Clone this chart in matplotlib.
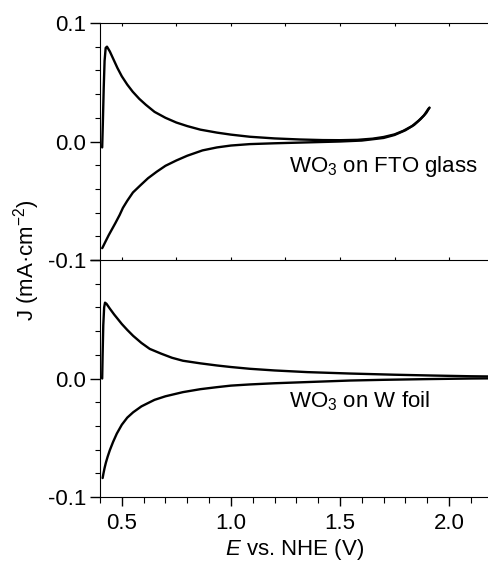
import numpy as np
import matplotlib
matplotlib.use('Agg')
import matplotlib.pyplot as plt
from matplotlib.ticker import MultipleLocator, FixedLocator

plt.rcParams['font.family'] = ['Liberation Sans', 'DejaVu Sans']
plt.rcParams['mathtext.fontset'] = 'custom'
plt.rcParams['mathtext.rm'] = 'Liberation Sans'
plt.rcParams['mathtext.it'] = 'Liberation Sans:italic'

# WO3 on FTO glass (top panel)
fto_fwd_E = [0.410, 0.413, 0.417, 0.421, 0.426, 0.432, 0.445, 0.460, 0.480, 0.500, 0.525,
             0.550, 0.580, 0.610, 0.650, 0.700, 0.750, 0.800, 0.860, 0.936, 1.000, 1.087,
             1.200, 1.316, 1.420, 1.500, 1.580, 1.650, 1.700, 1.750, 1.790, 1.830, 1.860,
             1.885, 1.905, 1.910]
fto_fwd_J = [-0.005, 0.015, 0.045, 0.068, 0.079, 0.080, 0.076, 0.070, 0.062, 0.055, 0.048,
             0.042, 0.036, 0.031, 0.025, 0.020, 0.016, 0.013, 0.010, 0.0075, 0.0058, 0.0040,
             0.0026, 0.0017, 0.0012, 0.0011, 0.0014, 0.0024, 0.0038, 0.0060, 0.0090, 0.0130, 0.0175,
             0.0220, 0.0275, 0.0285]
fto_rev_E = [1.910, 1.895, 1.870, 1.840, 1.800, 1.750, 1.700, 1.600, 1.500, 1.400, 1.300,
             1.200, 1.087, 1.000, 0.936, 0.870, 0.800, 0.750, 0.700, 0.660, 0.620, 0.585,
             0.551, 0.525, 0.505, 0.490, 0.470, 0.455, 0.440, 0.425, 0.413, 0.410]
fto_rev_J = [0.0285, 0.0240, 0.0190, 0.0140, 0.0095, 0.0055, 0.0030, 0.0008, 0.0000, -0.0005, -0.0010,
             -0.0015, -0.0022, -0.0034, -0.0050, -0.0075, -0.0120, -0.0160, -0.0205, -0.0255, -0.0310, -0.0370,
             -0.0430, -0.0500, -0.0560, -0.0620, -0.0690, -0.0740, -0.0790, -0.0845, -0.0890, -0.0900]

# WO3 on W foil (bottom panel)
w_fwd_E = [0.410, 0.412, 0.415, 0.419, 0.423, 0.430, 0.445, 0.465, 0.476, 0.500, 0.525,
           0.552, 0.590, 0.628, 0.680, 0.730, 0.780, 0.860, 0.936, 1.000, 1.087, 1.200,
           1.350, 1.546, 1.750, 1.927, 2.100, 2.300]
w_fwd_J = [0.000, 0.020, 0.045, 0.060, 0.064, 0.063, 0.059, 0.054, 0.0515, 0.046, 0.041,
           0.036, 0.030, 0.025, 0.021, 0.0175, 0.0150, 0.0128, 0.0110, 0.0097, 0.0082, 0.0068,
           0.0054, 0.0042, 0.0032, 0.0025, 0.0019, 0.0015]
w_rev_E = [2.300, 2.100, 1.900, 1.700, 1.546, 1.350, 1.200, 1.087, 1.000, 0.936, 0.860,
           0.780, 0.700, 0.650, 0.628, 0.590, 0.552, 0.525, 0.500, 0.477, 0.460, 0.445,
           0.435, 0.427, 0.421, 0.416, 0.412]
w_rev_J = [0.0003, 0.0000, -0.0005, -0.0011, -0.0017, -0.0030, -0.0040, -0.0050, -0.0060, -0.0073, -0.0090,
           -0.0115, -0.0150, -0.0180, -0.0200, -0.0235, -0.0285, -0.0330, -0.0390, -0.0465, -0.0535, -0.0605,
           -0.0660, -0.0710, -0.0755, -0.0800, -0.0840]

fig = plt.figure(figsize=(4.89, 5.66), dpi=100)
ax2 = fig.add_axes([0.2045, 0.1219, 0.7955, 0.4187])
ax1 = fig.add_axes([0.2045, 0.5406, 0.7955, 0.4188])
ax1.patch.set_visible(False)

line_kw = dict(color='k', lw=1.7, solid_joinstyle='round', solid_capstyle='round')
ax1.plot(fto_fwd_E, fto_fwd_J, **line_kw)
ax1.plot(fto_rev_E, fto_rev_J, **line_kw)
ax2.plot(w_fwd_E, w_fwd_J, **line_kw)
ax2.plot(w_rev_E, w_rev_J, **line_kw)

for ax in (ax1, ax2):
    ax.set_xlim(0.40, 2.183)
    ax.set_ylim(-0.1, 0.1)
    ax.spines['right'].set_visible(False)
    ax.yaxis.set_major_locator(FixedLocator([-0.1, 0.0, 0.1]))
    ax.yaxis.set_minor_locator(MultipleLocator(0.02))
    ax.tick_params(axis='y', which='major', direction='out', length=7, width=1, labelsize=16, pad=3)
    ax.tick_params(axis='y', which='minor', direction='out', length=3.5, width=0.8)

ax1.set_yticklabels(['-0.1', '0.0', '0.1'])
ax2.set_yticklabels(['-0.1', '0.0', ''])

# top panel: tiny inward ticks on top and bottom edges
ax1.xaxis.set_major_locator(MultipleLocator(0.25))
ax1.xaxis.set_minor_locator(FixedLocator([]))
ax1.tick_params(axis='x', which='major', direction='in', length=2, width=0.8,
                top=True, bottom=True, labelbottom=False)

ax2.spines['top'].set_visible(False)
ax2.xaxis.set_major_locator(MultipleLocator(0.5))
ax2.xaxis.set_minor_locator(MultipleLocator(0.1))
ax2.tick_params(axis='x', which='major', direction='out', length=6.5, width=1, labelsize=16, pad=5)
ax2.tick_params(axis='x', which='minor', direction='out', length=4, width=0.8)

ax1.text(1.266, -0.021, 'WO$_3$ on FTO glass', fontsize=16, va='center', ha='left')
ax2.text(1.266, -0.019, 'WO$_3$ on W foil', fontsize=16, va='center', ha='left')

ax2.set_xlabel('$\\mathit{E}$ vs. NHE (V)', fontsize=16, labelpad=2)
fig.text(0.055, 0.54, 'J (mA\u00b7cm$^{-2}$)', rotation=90, fontsize=16, ha='center', va='center')

fig.savefig('out.png', dpi=100)
